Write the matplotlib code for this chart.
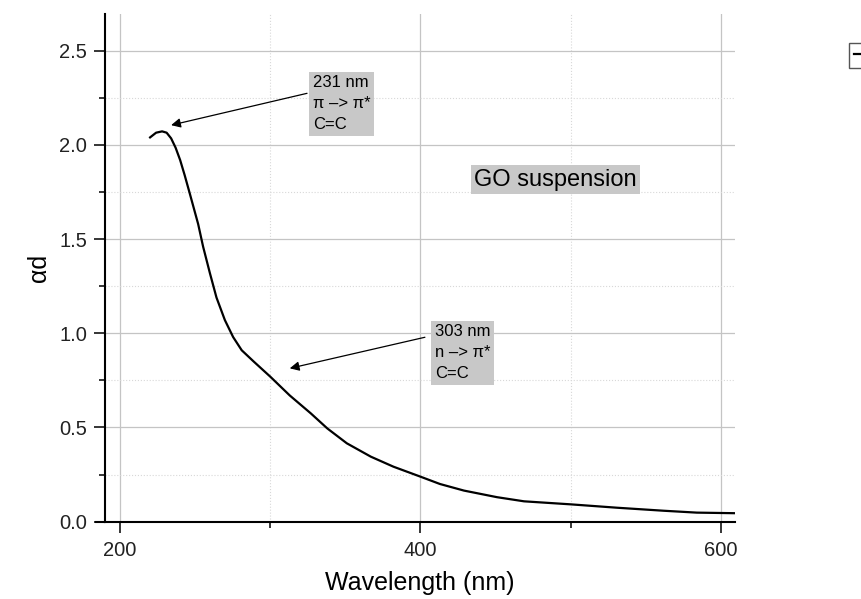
import matplotlib
matplotlib.use('Agg')
import matplotlib.pyplot as plt
from matplotlib.lines import Line2D
from matplotlib.ticker import MultipleLocator, FormatStrFormatter

plt.rcParams['font.family'] = ['Liberation Sans', 'DejaVu Sans']

# Поглощение суспензии GO (αd) в зависимости от длины волны
wavelength = [220, 224, 228, 231, 234, 237, 240, 243, 246.5, 252, 255.3, 259.8,
              264.2, 269.8, 275.3, 281, 289, 300, 313, 327, 338, 351, 367,
              382, 400, 413, 429, 451, 469, 500, 531, 562, 584, 609]
alpha_d = [2.04, 2.065, 2.072, 2.065, 2.035, 1.985, 1.92, 1.84, 1.74, 1.58,
           1.46, 1.32, 1.19, 1.07, 0.98, 0.91, 0.85, 0.77, 0.67, 0.575, 0.495,
           0.416, 0.345, 0.292, 0.239, 0.20, 0.165, 0.13, 0.108, 0.092, 0.074,
           0.058, 0.048, 0.045]

peak_labels = ['231 nm\nπ –> π*\nC=C', '303 nm\nn –> π*\nC=C']
peak_tips = [(234, 2.105), (313, 0.814)]
peak_tails = [(324.5, 2.274), (403, 0.979)]
peak_boxes = [(328.5, 2.37), (409.5, 1.047)]

fig = plt.figure(figsize=(8.61, 5.99), dpi=100)
ax = fig.add_axes([0.1220, 0.1291, 0.7317, 0.8475])

ax.plot(wavelength, alpha_d, color='black', lw=1.6, label='GO')

ax.set_xlim(190, 609.5)
ax.set_ylim(0, 2.695)

ax.xaxis.set_major_locator(MultipleLocator(200))
ax.xaxis.set_minor_locator(MultipleLocator(100))
ax.yaxis.set_major_locator(MultipleLocator(0.5))
ax.yaxis.set_minor_locator(MultipleLocator(0.25))
ax.yaxis.set_major_formatter(FormatStrFormatter('%.1f'))

ax.grid(which='major', color='#c4c4c4', lw=0.9)
ax.grid(which='minor', color='#d8d8d8', lw=0.8, ls=':')
ax.set_axisbelow(True)

for side in ['top', 'right']:
    ax.spines[side].set_visible(False)
for side in ['left', 'bottom']:
    ax.spines[side].set_linewidth(1.5)
# нижняя ось выходит немного левее вертикальной
ax.plot([183.4, 190], [0, 0], color='black', lw=1.5, clip_on=False,
        solid_capstyle='butt')

ax.tick_params(which='major', direction='out', length=8, width=1.1,
               labelsize=14.5, labelcolor='#222222')
ax.tick_params(which='minor', direction='out', length=4, width=1.1)
ax.tick_params(axis='y', pad=5)
ax.tick_params(axis='x', pad=6)

ax.set_xlabel('Wavelength (nm)', fontsize=18, labelpad=8)
ax.set_ylabel('αd', fontsize=18, labelpad=6)

# Подписи переходов со стрелками
for text, tip, tail, box in zip(peak_labels, peak_tips, peak_tails, peak_boxes):
    ax.annotate('', xy=tip, xytext=tail,
                arrowprops=dict(arrowstyle='-|>', color='black', lw=0.9,
                                mutation_scale=14, shrinkA=0, shrinkB=0))
    ax.text(box[0], box[1], text, fontsize=12, ha='left', va='top',
            linespacing=1.5,
            bbox=dict(boxstyle='square,pad=0.22', fc='#c8c8c8', ec='none'))

ax.text(490, 1.815, 'GO suspension', fontsize=17, ha='center', va='center',
        bbox=dict(boxstyle='square,pad=0.15', fc='#c8c8c8', ec='none'))

handle = Line2D([], [], color='black', lw=1.6)
fig.legend([handle], [' '], loc='upper left', bbox_to_anchor=(0.986, 0.929),
           borderaxespad=0, fontsize=12, fancybox=False, edgecolor='#555555',
           borderpad=0.3, handlelength=1.5, framealpha=1)

fig.savefig('out.png', dpi=100)
